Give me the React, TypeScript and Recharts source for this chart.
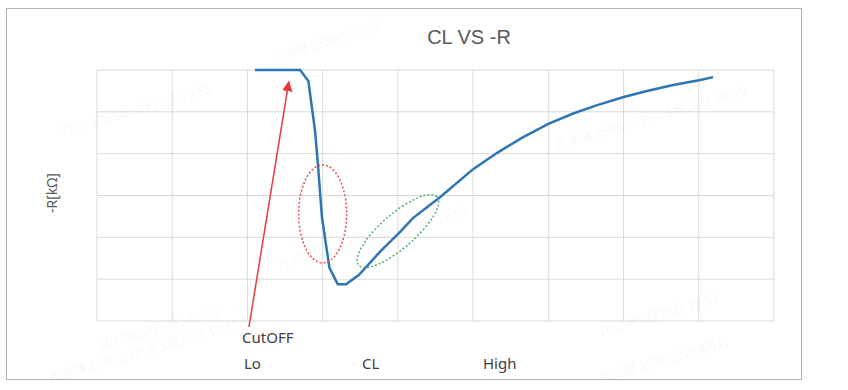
import React from "react";
import {
  LineChart,
  Line,
  XAxis,
  YAxis,
  CartesianGrid,
  ReferenceLine,
  ReferenceDot,
} from "recharts";

// CL position (grid units) vs -R (grid units)
const clValues = [2.1, 2.7, 2.81, 2.9, 2.94, 2.99, 3.09, 3.2, 3.31, 3.48, 3.76, 4.03, 4.2, 4.56, 5.0, 5.32, 5.66, 6.0, 6.33, 6.65, 6.99, 7.31, 7.66, 8.02, 8.19];
const negR = [6, 6, 5.74, 4.52, 3.68, 2.49, 1.27, 0.88, 0.88, 1.1, 1.65, 2.13, 2.46, 2.96, 3.63, 4.02, 4.39, 4.71, 4.96, 5.16, 5.35, 5.5, 5.64, 5.76, 5.83];

const xTicks = [0, 1, 2, 3, 4, 5, 6, 7, 8, 9];
const yTicks = [0, 1, 2, 3, 4, 5, 6];

const bottomLabels = [
  { text: "Lo", x: 244 },
  { text: "CL", x: 362 },
  { text: "High", x: 483 },
];

const watermark = "齐浙赣 2596 2025年5月29日 19:55";
const watermarks = [
  { x: 272, y: 62, t: "齐浙赣 2596 2025年" },
  { x: 62, y: 136, t: "2596 2025年5月29日 19:55" },
  { x: 278, y: 270, t: watermark },
  { x: 556, y: 150, t: watermark },
  { x: 50, y: 383, t: watermark },
  { x: 600, y: 383, t: "齐浙赣 2596 2025年5月" },
  { x: 100, y: 350, t: "2025年5月29日 19:55" },
  { x: 600, y: 336, t: "2025年5月29日 19:55" },
];

const chartData = clValues.map((x, i) => ({ cl: x, r: negR[i] }));

const font = "'Liberation Sans', Arial, sans-serif";

export default function App() {
  document.body.style.margin = "0";
  return (
    <div style={{ width: 848, height: 390, background: "#fff" }}>
      <LineChart
        width={848}
        height={390}
        data={chartData}
        margin={{ top: 70, right: 74, left: 97, bottom: 69 }}
      >
        <defs>
          <marker id="arrowHead" viewBox="0 0 10 10" refX="9" refY="5" markerWidth="7" markerHeight="7" orient="auto">
            <path d="M0,0 L10,5 L0,10 z" fill="#e8393c" />
          </marker>
        </defs>
        <rect x={6.5} y={8.5} width={795} height={371} fill="none" stroke="#b4b4b4" />
        {watermarks.map((w, i) => (
          <text
            key={i}
            x={w.x}
            y={w.y}
            transform={`rotate(-16 ${w.x} ${w.y})`}
            fontSize={13}
            fontFamily="'Noto Sans CJK SC', sans-serif"
            fill="#000"
            fillOpacity={0.05}
          >
            {w.t}
          </text>
        ))}
        <text x={469} y={44} textAnchor="middle" fontSize={20} fontFamily={font} fill="#595959">
          CL VS -R
        </text>
        <text
          x={57}
          y={193}
          textAnchor="middle"
          transform="rotate(-90 57 193)"
          fontSize={14}
          fontFamily="'Noto Sans', sans-serif"
          fill="#595959"
        >
          -R[kΩ]
        </text>
        <text x={242} y={343} fontSize={15} fontFamily="'Noto Sans', sans-serif" fill="#404040">
          CutOFF
        </text>
        {bottomLabels.map((l) => (
          <text key={l.text} x={l.x} y={369} fontSize={15} fontFamily="'Noto Sans', sans-serif" fill="#404040">
            {l.text}
          </text>
        ))}
        <CartesianGrid stroke="#d9d9d9" strokeWidth={1} />
        <XAxis dataKey="cl" type="number" domain={[0, 9]} ticks={xTicks} hide />
        <YAxis type="number" domain={[0, 6]} ticks={yTicks} hide />
        <Line
          type="linear"
          dataKey="r"
          stroke="#2e75b6"
          strokeWidth={2.5}
          dot={false}
          isAnimationActive={false}
        />
        <ReferenceLine
          segment={[{ x: 2.02, y: -0.14 }, { x: 2.55, y: 5.72 }]}
          stroke="#e8393c"
          strokeWidth={1.5}
          ifOverflow="visible"
          markerEnd="url(#arrowHead)"
        />
        <ReferenceDot
          x={3.0}
          y={2.56}
          ifOverflow="visible"
          shape={(p: any) => (
            <ellipse cx={p.cx} cy={p.cy} rx={24} ry={49} fill="none" stroke="#e05050" strokeWidth={1.5} strokeDasharray="2 2" />
          )}
        />
        <ReferenceDot
          x={4.0}
          y={2.15}
          ifOverflow="visible"
          shape={(p: any) => (
            <ellipse
              cx={p.cx}
              cy={p.cy}
              rx={52}
              ry={17}
              transform={`rotate(-41 ${p.cx} ${p.cy})`}
              fill="none"
              stroke="#4caf70"
              strokeWidth={1.5}
              strokeDasharray="2 2"
            />
          )}
        />
      </LineChart>
    </div>
  );
}
